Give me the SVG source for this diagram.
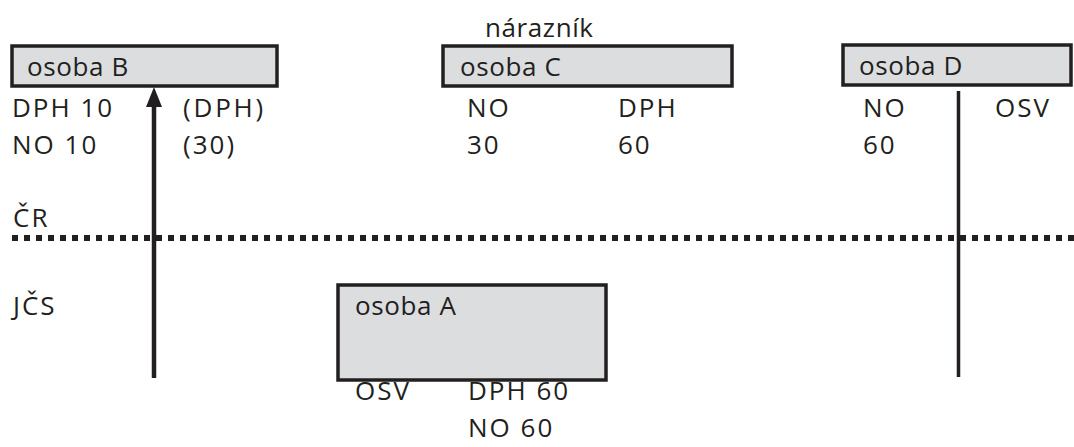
<svg xmlns="http://www.w3.org/2000/svg" width="1074" height="447" viewBox="0 0 1074 447">
<style>
text{font-family:"Open Sans","Noto Sans",sans-serif;font-size:26px;fill:#231f20;letter-spacing:0.6px}
text.c{letter-spacing:2px}
.box{fill:#dcdddf;stroke:#231f20;stroke-width:3.5}
</style>
<rect width="1074" height="447" fill="#fff"/>
<g id="labels">
<text x="485" y="37">nárazník</text>
<text class="c" x="13" y="227">ČR</text>
<text class="c" x="13" y="315">JČS</text>
</g>
<g id="border">
<line x1="12" y1="238" x2="1074" y2="238" stroke="#231f20" stroke-width="6" stroke-dasharray="6 6"/>
</g>
<g id="connectors">
<line x1="154" y1="378" x2="154" y2="106" stroke="#231f20" stroke-width="4.5"/>
<path d="M146,107 L154,87 L162,107 Z" fill="#231f20"/>
<line x1="958.5" y1="91" x2="958.5" y2="377" stroke="#231f20" stroke-width="3.5"/>
</g>
<g id="osobaB">
<rect class="box" x="12" y="46" width="265" height="40"/>
<text x="27" y="76">osoba B</text>
<text class="c" x="12" y="117">DPH 10</text>
<text class="c" x="12" y="154">NO 10</text>
<text class="c" x="183" y="117" style="letter-spacing:2.8px">(DPH)</text>
<text class="c" x="183" y="154">(30)</text>
</g>
<g id="osobaC">
<rect class="box" x="443" y="46" width="289" height="40"/>
<text x="460" y="76">osoba C</text>
<text class="c" x="467" y="117">NO</text>
<text class="c" x="467" y="154">30</text>
<text class="c" x="618" y="117">DPH</text>
<text class="c" x="618" y="154">60</text>
</g>
<g id="osobaD">
<rect class="box" x="843" y="45" width="228" height="40"/>
<text x="859" y="75">osoba D</text>
<text class="c" x="863" y="117">NO</text>
<text class="c" x="863" y="154">60</text>
<text class="c" x="995" y="117">OSV</text>
</g>
<g id="osobaA">
<rect class="box" x="338" y="285" width="268" height="95"/>
<text x="355" y="315">osoba A</text>
<text class="c" x="355" y="400">OSV</text>
<text class="c" x="468" y="400">DPH 60</text>
<text class="c" x="468" y="437">NO 60</text>
</g>
</svg>
